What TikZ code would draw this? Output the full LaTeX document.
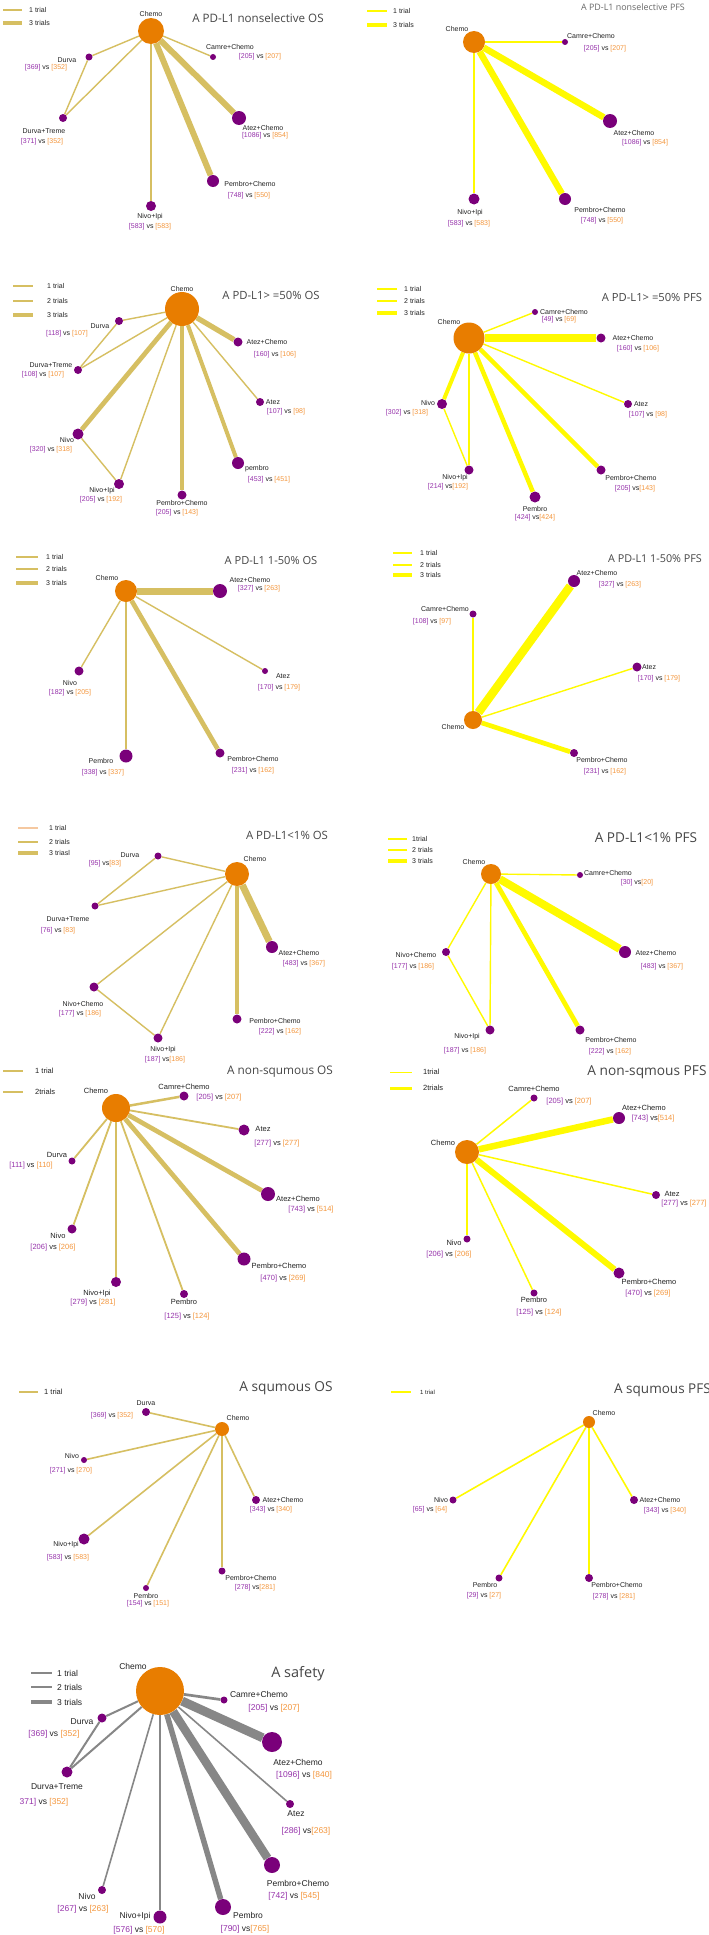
\documentclass[tikz,border=0pt]{standalone}
\usepackage{fontspec}
\setmainfont{Liberation Sans}
\newfontfamily\titrefont{Open Sans}
\usepackage{xcolor}
\usepackage{tikz}
\usetikzlibrary{positioning}
\definecolor{ordoux}{RGB}{214,191,98}
\definecolor{jaunevif}{RGB}{255,250,0}
\definecolor{grismoyen}{RGB}{135,135,135}
\definecolor{peche}{RGB}{245,200,160}
\definecolor{orangechimio}{RGB}{232,125,0}
\definecolor{violetnoeud}{RGB}{122,0,122}
\definecolor{numviolet}{RGB}{150,50,170}
\definecolor{numorange}{RGB}{244,150,60}
\definecolor{texte}{RGB}{35,35,35}
\definecolor{titregris}{RGB}{70,70,70}
\definecolor{titreclair}{RGB}{105,105,105}
\newcommand{\nbpat}[2]{\textcolor{numviolet}{[#1]} vs \textcolor{numorange}{[#2]}}
\newcommand{\nbpatc}[2]{\textcolor{numviolet}{[#1]} vs\textcolor{numorange}{[#2]}}
\pgfdeclarelayer{fond}
\pgfdeclarelayer{liens}
\pgfsetlayers{fond,liens,main}

\begin{document}
\begin{tikzpicture}[x=1pt, y=-1pt,
    trt/.style={circle, fill=violetnoeud, inner sep=0pt},
    chimio/.style={circle, fill=orangechimio, inner sep=0pt},
    lab/.style={inner sep=0pt, text=texte, font=\fontsize{7}{8}\selectfont},
    labgrand/.style={lab, font=\fontsize{7.5}{9}\selectfont},
    labsecu/.style={lab, font=\fontsize{8.5}{10}\selectfont},
    titre/.style={inner sep=0pt, text=titregris}]
  \useasboundingbox (0,0) rectangle (709,1935);
  \begin{pgfonlayer}{fond}
    \fill[white] (0,0) rectangle (709,1935);
  \end{pgfonlayer}

  % A PD-L1 nonselective OS
  \foreach \y/\w/\txt in {10/1.3pt/1 trial, 23/3.3pt/3 trials}{
    \draw[ordoux, line width=\w] (3,\y) -- (22,\y);
    \node[lab, anchor=west] (aleg\y) at (29,\y) {\txt};
  }
  \node[titre, font={\titrefont\fontsize{11.6}{13}\selectfont}] (atitre) at (258,18) {A PD-L1 nonselective OS};
  \node[chimio, minimum size=26pt] (aChemo) at (151,31) {};
  \foreach \nom/\x/\y/\dd in {Durva/89/57/7pt, DurvaTreme/63/118/8pt, Camre/213/57/6pt, AtezChemo/239/118/14pt, PembroChemo/213/181/12pt, NivoIpi/151/206/10pt}
    \node[trt, minimum size=\dd] (a\nom) at (\x,\y) {};
  \foreach \nom/\x/\y/\txt in {Chemo/151/14/Chemo, Durva/67/60/Durva, DurvaTreme/44/131/Durva+Treme, Camre/230/47/Camre+Chemo, AtezChemo/263/128/Atez+Chemo, PembroChemo/250/184/Pembro+Chemo, NivoIpi/150/217/Nivo+Ipi}
    \node[lab] (a\nom-l) at (\x,\y) {\txt};
  \foreach \nom/\x/\y/\p/\q in {Durva/46/68/369/352, DurvaTreme/42/142/371/352, Camre/260/57/205/207, AtezChemo/265/136/1086/854, PembroChemo/249/196/748/550, NivoIpi/150/227/583/583}
    \node[lab] (a\nom-n) at (\x,\y) {\nbpat{\p}{\q}};
  \begin{pgfonlayer}{liens}
    \foreach \de/\vers/\w in {Chemo/Durva/1.4pt, Chemo/DurvaTreme/1.4pt, Durva/DurvaTreme/1.4pt, Chemo/Camre/1.4pt, Chemo/NivoIpi/1.4pt, Chemo/AtezChemo/6pt, Chemo/PembroChemo/6pt}
      \draw[ordoux, line width=\w] (a\de) -- (a\vers);
  \end{pgfonlayer}

  % A PD-L1 nonselective PFS
  \foreach \y/\w/\txt in {11/1.3pt/1 trial, 25/3.5pt/3 trials}{
    \draw[jaunevif, line width=\w] (367,\y) -- (387,\y);
    \node[lab, anchor=west] (bleg\y) at (393,\y) {\txt};
  }
  \node[titre, text=titreclair, font={\titrefont\fontsize{8.9}{10}\selectfont}] (btitre) at (633,7) {A PD-L1 nonselective PFS};
  \node[chimio, minimum size=22pt] (bChemo) at (474,42) {};
  \foreach \nom/\x/\y/\dd in {Camre/565/42/6pt, AtezChemo/610/121/14pt, PembroChemo/565/199/12pt, NivoIpi/474/199/11pt}
    \node[trt, minimum size=\dd] (b\nom) at (\x,\y) {};
  \foreach \nom/\x/\y/\txt in {Chemo/457/29/Chemo, Camre/591/36/Camre+Chemo, AtezChemo/634/133/Atez+Chemo, PembroChemo/600/210/Pembro+Chemo, NivoIpi/470/213/Nivo+Ipi}
    \node[lab] (b\nom-l) at (\x,\y) {\txt};
  \foreach \nom/\x/\y/\p/\q in {Camre/605/49/205/207, AtezChemo/645/143/1086/854, PembroChemo/602/221/748/550, NivoIpi/469/224/583/583}
    \node[lab] (b\nom-n) at (\x,\y) {\nbpat{\p}{\q}};
  \begin{pgfonlayer}{liens}
    \foreach \de/\vers/\w in {Chemo/Camre/1.4pt, Chemo/NivoIpi/1.4pt, Chemo/AtezChemo/6.5pt, Chemo/PembroChemo/6.5pt}
      \draw[jaunevif, line width=\w] (b\de) -- (b\vers);
  \end{pgfonlayer}

  % A PD-L1>=50% OS
  \foreach \y/\w/\txt in {286/1.3pt/1 trial, 301/2.7pt/2 trials, 315/4.5pt/3 trials}{
    \draw[ordoux, line width=\w] (13,\y) -- (33,\y);
    \node[lab, anchor=west] (cleg\y) at (47,\y) {\txt};
  }
  \node[titre, font={\titrefont\fontsize{11.3}{13}\selectfont}] (ctitre) at (271,295) {A PD-L1> =50\% OS};
  \node[chimio, minimum size=34pt] (cChemo) at (182,309) {};
  \foreach \nom/\x/\y/\dd in {Durva/119/321/8pt, DurvaTreme/78/370/8pt, AtezChemo/238/342/9pt, Atez/260/402/8pt, Nivo/78/434/11pt, NivoIpi/119/484/10pt, PembroChemo/182/495/9pt, Pembro/238/463/12pt}
    \node[trt, minimum size=\dd] (c\nom) at (\x,\y) {};
  \foreach \nom/\x/\y/\txt in {Chemo/182/289/Chemo, Durva/100/326/Durva, DurvaTreme/51/365/Durva+Treme, AtezChemo/267/342/Atez+Chemo, Atez/273/402/Atez, Nivo/67/440/Nivo, NivoIpi/102/491/Nivo+Ipi, PembroChemo/182/503/Pembro+Chemo, Pembro/257/469/pembro}
    \node[lab] (c\nom-l) at (\x,\y) {\txt};
  \foreach \nom/\x/\y/\p/\q in {Durva/67/334/118/107, DurvaTreme/43/375/108/107, AtezChemo/275/355/160/106, Atez/286/412/107/98, Nivo/51/450/320/318, NivoIpi/101/500/205/192, PembroChemo/177/513/205/143, Pembro/269/480/453/451}
    \node[lab] (c\nom-n) at (\x,\y) {\nbpat{\p}{\q}};
  \begin{pgfonlayer}{liens}
    \foreach \de/\vers/\w in {Chemo/Durva/1.4pt, Chemo/DurvaTreme/1.4pt, Durva/DurvaTreme/1.4pt, Chemo/Atez/1.4pt, Chemo/NivoIpi/1.4pt, Nivo/NivoIpi/1.4pt, Chemo/AtezChemo/5.3pt, Chemo/Nivo/4.7pt, Chemo/PembroChemo/4.3pt, Chemo/Pembro/4pt}
      \draw[ordoux, line width=\w] (c\de) -- (c\vers);
  \end{pgfonlayer}

  % A PD-L1>=50% PFS
  \foreach \y/\w/\txt in {289/1.3pt/1 trial, 301/2.7pt/2 trials, 313/4.5pt/3 trials}{
    \draw[jaunevif, line width=\w] (377,\y) -- (397,\y);
    \node[lab, anchor=west] (dleg\y) at (404,\y) {\txt};
  }
  \node[titre, font={\titrefont\fontsize{11.2}{13}\selectfont}] (dtitre) at (652,297) {A PD-L1> =50\% PFS};
  \node[chimio, minimum size=31pt] (dChemo) at (469,338) {};
  \foreach \nom/\x/\y/\dd in {Camre/535/312/6pt, AtezChemo/601/338/9pt, Atez/628/404/8pt, Nivo/442/404/10pt, NivoIpi/469/470/9pt, Pembro/535/497/11pt, PembroChemo/601/470/9pt}
    \node[trt, minimum size=\dd] (d\nom) at (\x,\y) {};
  \foreach \nom/\x/\y/\txt in {Chemo/449/322/Chemo, Camre/564/312/Camre+Chemo, AtezChemo/633/338/Atez+Chemo, Atez/641/404/Atez, Nivo/428/403/Nivo, NivoIpi/455/478/Nivo+Ipi, Pembro/535/509/Pembro, PembroChemo/631/478/Pembro+Chemo}
    \node[lab] (d\nom-l) at (\x,\y) {\txt};
  \foreach \nom/\x/\y/\p/\q in {Camre/559/320/49/69, AtezChemo/638/349/160/106, Atez/648/415/107/98, Nivo/407/413/302/318}
    \node[lab] (d\nom-n) at (\x,\y) {\nbpat{\p}{\q}};
  \foreach \nom/\x/\y/\p/\q in {NivoIpi/448/487/214/192, Pembro/535/518/424/424, PembroChemo/635/489/205/143}
    \node[lab] (d\nom-n) at (\x,\y) {\nbpatc{\p}{\q}};
  \begin{pgfonlayer}{liens}
    \foreach \de/\vers/\w in {Chemo/Camre/1.4pt, Chemo/Atez/1.4pt, Chemo/NivoIpi/1.4pt, Nivo/NivoIpi/1.4pt, Chemo/AtezChemo/8pt, Chemo/Nivo/4pt, Chemo/Pembro/4.5pt, Chemo/PembroChemo/4.5pt}
      \draw[jaunevif, line width=\w] (d\de) -- (d\vers);
  \end{pgfonlayer}

  % A PD-L1 1-50% OS
  \foreach \y/\w/\txt in {557/1.3pt/1 trial, 569/2.7pt/2 trials, 583/4.5pt/3 trials}{
    \draw[ordoux, line width=\w] (16,\y) -- (38,\y);
    \node[lab, anchor=west] (eleg\y) at (46,\y) {\txt};
  }
  \node[titre, font={\titrefont\fontsize{11.1}{13}\selectfont}] (etitre) at (271,561) {A PD-L1 1-50\% OS};
  \node[chimio, minimum size=22pt] (eChemo) at (126,591) {};
  \foreach \nom/\x/\y/\dd in {AtezChemo/220/591/14pt, Atez/265/671/6pt, Nivo/79/671/9pt, Pembro/126/756/13pt, PembroChemo/220/753/9pt}
    \node[trt, minimum size=\dd] (e\nom) at (\x,\y) {};
  \foreach \nom/\x/\y/\txt in {Chemo/107/578/Chemo, AtezChemo/250/580/Atez+Chemo, Atez/283/676/Atez, Nivo/70/683/Nivo, Pembro/101/761/Pembro, PembroChemo/253/759/Pembro+Chemo}
    \node[lab] (e\nom-l) at (\x,\y) {\txt};
  \foreach \nom/\x/\y/\p/\q in {AtezChemo/259/589/327/263, Atez/279/688/170/179, Nivo/70/693/182/205, Pembro/103/773/338/337, PembroChemo/253/771/231/162}
    \node[lab] (e\nom-n) at (\x,\y) {\nbpat{\p}{\q}};
  \begin{pgfonlayer}{liens}
    \foreach \de/\vers/\w in {Chemo/Atez/1.4pt, Chemo/Nivo/1.4pt, Chemo/Pembro/1.4pt, Chemo/AtezChemo/7pt, Chemo/PembroChemo/4.7pt}
      \draw[ordoux, line width=\w] (e\de) -- (e\vers);
  \end{pgfonlayer}

  % A PD-L1 1-50% PFS
  \foreach \y/\w/\txt in {553/1.3pt/1 trial, 565/2.7pt/2 trials, 575/4.5pt/3 trials}{
    \draw[jaunevif, line width=\w] (393,\y) -- (412,\y);
    \node[lab, anchor=west] (fleg\y) at (420,\y) {\txt};
  }
  \node[titre, font={\titrefont\fontsize{10.8}{12}\selectfont}] (ftitre) at (655,559) {A PD-L1 1-50\% PFS};
  \node[chimio, minimum size=18pt] (fChemo) at (473,720) {};
  \foreach \nom/\x/\y/\dd in {AtezChemo/574/581/12pt, Camre/473/614/7pt, Atez/637/667/9pt, PembroChemo/574/753/8pt}
    \node[trt, minimum size=\dd] (f\nom) at (\x,\y) {};
  \foreach \nom/\x/\y/\txt in {Chemo/453/727/Chemo, AtezChemo/597/573/Atez+Chemo, Camre/445/609/Camre+Chemo, Atez/649/667/Atez, PembroChemo/602/760/Pembro+Chemo}
    \node[lab] (f\nom-l) at (\x,\y) {\txt};
  \foreach \nom/\x/\y/\p/\q in {AtezChemo/620/585/327/263, Camre/432/622/108/97, Atez/659/679/170/179, PembroChemo/605/772/231/162}
    \node[lab] (f\nom-n) at (\x,\y) {\nbpat{\p}{\q}};
  \begin{pgfonlayer}{liens}
    \foreach \de/\vers/\w in {Chemo/Camre/1.4pt, Chemo/Atez/1.4pt, Chemo/AtezChemo/8.5pt, Chemo/PembroChemo/4.7pt}
      \draw[jaunevif, line width=\w] (f\de) -- (f\vers);
  \end{pgfonlayer}

  % A PD-L1<1% OS
  \foreach \y/\c/\w/\txt in {828/peche/1.3pt/1 trial, 842/ordoux/2.7pt/2 trials, 853/ordoux/4.5pt/3 triasl}{
    \draw[\c, line width=\w] (18,\y) -- (38,\y);
    \node[lab, anchor=west] (gleg\y) at (49,\y) {\txt};
  }
  \node[titre, font={\titrefont\fontsize{11.4}{13}\selectfont}] (gtitre) at (287,835) {A PD-L1<1\% OS};
  \node[chimio, minimum size=24pt] (gChemo) at (237,874) {};
  \foreach \nom/\x/\y/\dd in {Durva/158/856/7pt, DurvaTreme/95/906/7pt, AtezChemo/272/947/12pt, NivoChemo/94/987/9pt, PembroChemo/237/1019/9pt, NivoIpi/158/1038/9pt}
    \node[trt, minimum size=\dd] (g\nom) at (\x,\y) {};
  \foreach \nom/\x/\y/\txt in {Chemo/255/859/Chemo, Durva/130/855/Durva, DurvaTreme/68/919/Durva+Treme, AtezChemo/299/953/Atez+Chemo, NivoChemo/83/1004/Nivo+Chemo, PembroChemo/275/1021/Pembro+Chemo, NivoIpi/163/1050/Nivo+Ipi}
    \node[lab] (g\nom-l) at (\x,\y) {\txt};
  \foreach \nom/\x/\y/\p/\q in {DurvaTreme/58/931/76/83, AtezChemo/304/964/483/367, NivoChemo/80/1014/177/186, PembroChemo/280/1032/222/162}
    \node[lab] (g\nom-n) at (\x,\y) {\nbpat{\p}{\q}};
  \foreach \nom/\x/\y/\p/\q in {Durva/105/864/95/83, NivoIpi/165/1060/187/186}
    \node[lab] (g\nom-n) at (\x,\y) {\nbpatc{\p}{\q}};
  \begin{pgfonlayer}{liens}
    \foreach \de/\vers/\w in {Chemo/Durva/1.4pt, Chemo/DurvaTreme/1.4pt, Durva/DurvaTreme/1.4pt, Chemo/NivoChemo/1.4pt, Chemo/NivoIpi/1.4pt, NivoChemo/NivoIpi/1.4pt, Chemo/PembroChemo/4pt, Chemo/AtezChemo/7pt}
      \draw[ordoux, line width=\w] (g\de) -- (g\vers);
  \end{pgfonlayer}

  % A PD-L1<1% PFS
  \foreach \y/\w/\txt in {839/1.3pt/1trial, 850/2.7pt/2 trials, 861/4.5pt/3 trials}{
    \draw[jaunevif, line width=\w] (388,\y) -- (407,\y);
    \node[lab, anchor=west] (hleg\y) at (412,\y) {\txt};
  }
  \node[titre, font={\titrefont\fontsize{13.6}{15}\selectfont}] (htitre) at (646,838) {A PD-L1<1\% PFS};
  \node[chimio, minimum size=20pt] (hChemo) at (491,874) {};
  \foreach \nom/\x/\y/\dd in {Camre/580/875/6pt, AtezChemo/625/952/12pt, NivoChemo/446/952/8pt, NivoIpi/490/1030/9pt, PembroChemo/580/1030/9pt}
    \node[trt, minimum size=\dd] (h\nom) at (\x,\y) {};
  \foreach \nom/\x/\y/\txt in {Chemo/474/862/Chemo, Camre/608/873/Camre+Chemo, AtezChemo/656/953/Atez+Chemo, NivoChemo/416/955/Nivo+Chemo, NivoIpi/467/1037/Nivo+Ipi, PembroChemo/611/1040/Pembro+Chemo}
    \node[lab] (h\nom-l) at (\x,\y) {\txt};
  \foreach \nom/\x/\y/\p/\q in {AtezChemo/662/967/483/367, NivoChemo/413/967/177/186, NivoIpi/465/1051/187/186, PembroChemo/610/1052/222/162}
    \node[lab] (h\nom-n) at (\x,\y) {\nbpat{\p}{\q}};
  \node[lab] (hCamre-n) at (637,883) {\nbpatc{30}{20}};
  \begin{pgfonlayer}{liens}
    \foreach \de/\vers/\w in {Chemo/Camre/1.4pt, Chemo/NivoChemo/1.4pt, Chemo/NivoIpi/1.4pt, NivoChemo/NivoIpi/1.4pt, Chemo/AtezChemo/8pt, Chemo/PembroChemo/4.7pt}
      \draw[jaunevif, line width=\w] (h\de) -- (h\vers);
  \end{pgfonlayer}

  % A non-squmous OS
  \foreach \y/\w/\txt in {1071/1.3pt/1 trial, 1092/2.7pt/2trials}{
    \draw[ordoux, line width=\w] (3,\y) -- (23,\y);
    \node[labgrand, anchor=west] (ileg\y) at (35,\y) {\txt};
  }
  \node[titre, font={\titrefont\fontsize{11.8}{13}\selectfont}] (ititre) at (280,1072) {A non-squmous OS};
  \node[chimio, minimum size=28pt] (iChemo) at (116,1108) {};
  \foreach \nom/\x/\y/\dd in {Camre/184/1096/9pt, Atez/244/1130/11pt, Durva/72/1161/7pt, AtezChemo/268/1194/14pt, Nivo/72/1229/9pt, PembroChemo/244/1259/13pt, NivoIpi/116/1282/10pt, Pembro/184/1294/8pt}
    \node[trt, minimum size=\dd] (i\nom) at (\x,\y) {};
  \foreach \nom/\x/\y/\txt in {Chemo/96/1091/Chemo, Camre/184/1087/Camre+Chemo, Atez/263/1129/Atez, Durva/57/1155/Durva, AtezChemo/298/1199/Atez+Chemo, Nivo/58/1236/Nivo, PembroChemo/279/1266/Pembro+Chemo, NivoIpi/97/1294/Nivo+Ipi, Pembro/184/1302/Pembro}
    \node[labgrand] (i\nom-l) at (\x,\y) {\txt};
  \foreach \nom/\x/\y/\p/\q in {Camre/219/1098/205/207, Atez/277/1144/277/277, Durva/31/1166/111/110, AtezChemo/311/1210/743/514, Nivo/53/1248/206/206, PembroChemo/283/1279/470/269, NivoIpi/93/1303/279/281, Pembro/187/1317/125/124}
    \node[labgrand] (i\nom-n) at (\x,\y) {\nbpat{\p}{\q}};
  \begin{pgfonlayer}{liens}
    \foreach \de/\vers/\w in {Chemo/Camre/2.5pt, Chemo/Atez/1.8pt, Chemo/Durva/1.8pt, Chemo/AtezChemo/4.7pt, Chemo/Nivo/1.8pt, Chemo/PembroChemo/4.7pt, Chemo/NivoIpi/2pt, Chemo/Pembro/1.8pt}
      \draw[ordoux, line width=\w] (i\de) -- (i\vers);
  \end{pgfonlayer}

  % A non-sqmous PFS
  \foreach \y/\w/\txt in {1072/0.8pt/1trial, 1088/3pt/2trials}{
    \draw[jaunevif, line width=\w] (390,\y) -- (412,\y);
    \node[labgrand, anchor=west] (jleg\y) at (423,\y) {\txt};
  }
  \node[titre, font={\titrefont\fontsize{13.7}{15}\selectfont}] (jtitre) at (647,1072) {A non-sqmous PFS};
  \node[chimio, minimum size=24pt] (jChemo) at (467,1152) {};
  \foreach \nom/\x/\y/\dd in {Camre/534/1098/7pt, AtezChemo/619/1118/12pt, Atez/656/1195/8pt, Nivo/467/1239/7pt, Pembro/534/1293/7pt, PembroChemo/619/1273/11pt}
    \node[trt, minimum size=\dd] (j\nom) at (\x,\y) {};
  \foreach \nom/\x/\y/\txt in {Chemo/443/1143/Chemo, Camre/534/1089/Camre+Chemo, AtezChemo/644/1108/Atez+Chemo, Atez/672/1194/Atez, Nivo/454/1243/Nivo, Pembro/534/1300/Pembro, PembroChemo/649/1282/Pembro+Chemo}
    \node[labgrand] (j\nom-l) at (\x,\y) {\txt};
  \foreach \nom/\x/\y/\p/\q in {Camre/569/1102/205/207, Atez/684/1204/277/277, Nivo/449/1255/206/206, Pembro/539/1313/125/124, PembroChemo/648/1294/470/269}
    \node[labgrand] (j\nom-n) at (\x,\y) {\nbpat{\p}{\q}};
  \node[labgrand] (jAtezChemo-n) at (653,1119) {\nbpatc{743}{514}};
  \begin{pgfonlayer}{liens}
    \foreach \de/\vers/\w in {Chemo/Camre/1.5pt, Chemo/Atez/1.5pt, Chemo/Nivo/1.5pt, Chemo/Pembro/1.5pt, Chemo/AtezChemo/6.5pt, Chemo/PembroChemo/6pt}
      \draw[jaunevif, line width=\w] (j\de) -- (j\vers);
  \end{pgfonlayer}

  % A squmous OS
  \draw[ordoux, line width=1.6pt] (19,1392) -- (38,1392);
  \node[labgrand, anchor=west] (kleg) at (44,1392) {1 trial};
  \node[titre, font={\titrefont\fontsize{13.7}{15}\selectfont}] (ktitre) at (286,1388) {A squmous OS};
  \node[chimio, minimum size=14pt] (kChemo) at (222,1429) {};
  \foreach \nom/\x/\y/\dd in {Durva/146/1412/8pt, Nivo/84/1460/6pt, NivoIpi/84/1539/11pt, AtezChemo/256/1500/8pt, PembroChemo/222/1571/7pt, Pembro/146/1588/6pt}
    \node[trt, minimum size=\dd] (k\nom) at (\x,\y) {};
  \foreach \nom/\x/\y/\txt in {Chemo/238/1418/Chemo, Durva/146/1403/Durva, Nivo/72/1456/Nivo, NivoIpi/66/1545/Nivo+Ipi, AtezChemo/283/1500/Atez+Chemo, PembroChemo/251/1578/Pembro+Chemo, Pembro/146/1596/Pembro}
    \node[lab] (k\nom-l) at (\x,\y) {\txt};
  \foreach \nom/\x/\y/\p/\q in {Durva/112/1416/369/352, Nivo/71/1471/271/270, NivoIpi/68/1558/583/583, AtezChemo/271/1510/343/340, Pembro/148/1604/154/151}
    \node[lab] (k\nom-n) at (\x,\y) {\nbpat{\p}{\q}};
  \node[lab] (kPembroChemo-n) at (255,1588) {\nbpatc{278}{281}};
  \begin{pgfonlayer}{liens}
    \foreach \vers in {Durva, Nivo, NivoIpi, AtezChemo, PembroChemo, Pembro}
      \draw[ordoux, line width=1.6pt] (kChemo) -- (k\vers);
  \end{pgfonlayer}

  % A squmous PFS
  \draw[jaunevif, line width=1.3pt] (391,1392) -- (411,1392);
  \node[lab, anchor=west, font=\fontsize{6}{7}\selectfont] (lleg) at (420,1392) {1 trial};
  \node[titre, anchor=west, font={\titrefont\fontsize{13.5}{15}\selectfont}] (ltitre) at (614,1390) {A squmous PFS};
  \node[chimio, minimum size=12pt] (lChemo) at (589,1422) {};
  \foreach \nom/\x/\y/\dd in {Nivo/453/1500/7pt, AtezChemo/634/1500/8pt, Pembro/499/1578/7pt, PembroChemo/589/1578/8pt}
    \node[trt, minimum size=\dd] (l\nom) at (\x,\y) {};
  \foreach \nom/\x/\y/\txt in {Chemo/604/1413/Chemo, Nivo/441/1500/Nivo, AtezChemo/660/1500/Atez+Chemo, Pembro/485/1585/Pembro, PembroChemo/617/1585/Pembro+Chemo}
    \node[lab] (l\nom-l) at (\x,\y) {\txt};
  \foreach \nom/\x/\y/\p/\q in {Nivo/430/1510/65/64, AtezChemo/665/1511/343/340, Pembro/484/1596/29/27, PembroChemo/614/1597/278/281}
    \node[lab] (l\nom-n) at (\x,\y) {\nbpat{\p}{\q}};
  \begin{pgfonlayer}{liens}
    \foreach \vers in {Nivo, AtezChemo, Pembro, PembroChemo}
      \draw[jaunevif, line width=1.6pt] (lChemo) -- (l\vers);
  \end{pgfonlayer}

  % A safety
  \foreach \y/\w/\txt in {1673/1.3pt/1 trial, 1687/2.7pt/2 trials, 1702/4.7pt/3 trials}{
    \draw[grismoyen, line width=\w] (31,\y) -- (52,\y);
    \node[labsecu, anchor=west] (mleg\y) at (57,\y) {\txt};
  }
  \node[titre, font={\titrefont\fontsize{14.5}{16}\selectfont}] (mtitre) at (298,1674) {A safety};
  \node[chimio, minimum size=48pt] (mChemo) at (160,1691) {};
  \foreach \nom/\x/\y/\dd in {Camre/224/1700/7pt, Durva/102/1718/9pt, AtezChemo/272/1742/20pt, DurvaTreme/67/1772/11pt, Atez/290/1804/8pt, PembroChemo/272/1865/16pt, Nivo/102/1890/8pt, NivoIpi/160/1917/13pt, Pembro/223/1907/16pt}
    \node[trt, minimum size=\dd] (m\nom) at (\x,\y) {};
  \foreach \nom/\x/\y/\txt in {Chemo/133/1666/Chemo, Camre/259/1694/Camre+Chemo, Durva/82/1722/Durva, AtezChemo/298/1762/Atez+Chemo, DurvaTreme/57/1787/Durva+Treme, Atez/296/1814/Atez, PembroChemo/298/1883/Pembro+Chemo, Nivo/87/1896/Nivo, NivoIpi/135/1916/Nivo+Ipi, Pembro/248/1915/Pembro}
    \node[labsecu] (m\nom-l) at (\x,\y) {\txt};
  \foreach \nom/\x/\y/\p/\q in {Camre/274/1708/205/207, Durva/54/1734/369/352, AtezChemo/304/1775/1096/840, PembroChemo/294/1896/742/545, Nivo/83/1909/267/263, NivoIpi/139/1930/576/570}
    \node[labsecu] (m\nom-n) at (\x,\y) {\nbpat{\p}{\q}};
  \foreach \nom/\x/\y/\p/\q in {Atez/306/1831/286/263, Pembro/245/1929/790/765}
    \node[labsecu] (m\nom-n) at (\x,\y) {\nbpatc{\p}{\q}};
  \node[labsecu] (mDurvaTreme-n) at (44,1802) {\textcolor{numviolet}{371]} vs \textcolor{numorange}{[352]}};
  \begin{pgfonlayer}{liens}
    \foreach \de/\vers/\w in {Chemo/Camre/2.7pt, Chemo/Durva/2pt, Chemo/DurvaTreme/2pt, Durva/DurvaTreme/2pt, Chemo/AtezChemo/9pt, Chemo/Atez/1.6pt, Chemo/PembroChemo/8.5pt, Chemo/Pembro/5.5pt, Chemo/NivoIpi/2.2pt, Chemo/Nivo/1.6pt}
      \draw[grismoyen, line width=\w] (m\de) -- (m\vers);
  \end{pgfonlayer}
\end{tikzpicture}
\end{document}
